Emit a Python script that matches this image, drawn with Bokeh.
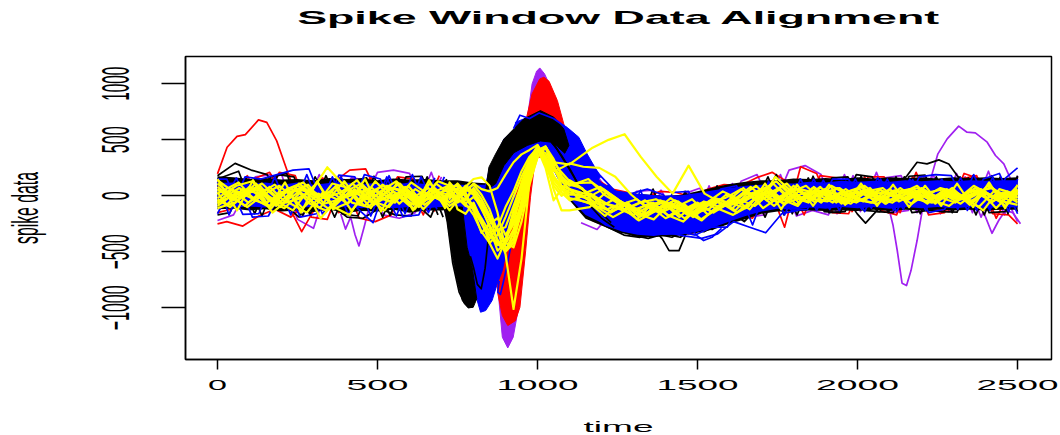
from bokeh.plotting import figure, curdoc
from bokeh.models import CustomJS, FixedTicker
from bokeh.embed import file_html
from bokeh.resources import INLINE

TITLE = "Spike Window Data Alignment"
X_LABEL = "time"
Y_LABEL = "spike data"
X_TICKS = [0, 500, 1000, 1500, 2000, 2500]
Y_TICKS = [-1000, -500, 0, 500, 1000]

# shared sample times of the traces
T_LEFT = [0, 50, 100, 150, 200, 250, 300, 350, 400, 450, 500, 550, 600, 650, 700]
T_SPIKE = [725, 750, 775, 800, 825, 850, 875, 900, 925, 950, 975, 1000, 1025, 1050, 1075, 1100]
T_RIGHT = [1150, 1200, 1250, 1300, 1350, 1400, 1450, 1500, 1550, 1600, 1650, 1700, 1750, 1800,
           1850, 1900, 1950, 2000, 2050, 2100, 2150, 2200, 2250, 2300, 2350, 2400, 2450, 2500]
# each window was cut at its own sample phase
PHASES = [0, 18, -14, 9, -21, 13, -7, 22, -17, 5, 16, -11, 20, -4, 11, -19, 7]

# solid ink where many traces overlap: envelope of the noise band
T_BAND_L = [0, 50, 100, 150, 200, 250, 300, 350, 400, 450, 500, 550, 600, 650, 700, 750, 800, 850]
T_BAND_R = [1100, 1150, 1200, 1250, 1300, 1350, 1400, 1450, 1500, 1550, 1600, 1650, 1700, 1750, 1800,
            1850, 1900, 1950, 2000, 2050, 2100, 2150, 2200, 2250, 2300, 2350, 2400, 2450, 2500]
BLACK_UP_L = [175, 165, 150, 160, 145, 150, 140, 160, 150, 155, 140, 155, 145, 150, 140, 140, 120, 110]
BLACK_LO_L = [-120, -115, -130, -120, -140, -130, -145, -125, -150, -135, -140, -125, -150, -130, -130, -120, -110, -110]
BLUE_UP_L = [115, 120, 105, 120, 100, 120, 100, 115, 120, 105, 115, 100, 120, 105, 115, 100, 100, 100]
BLUE_LO_L = [-90, -105, -95, -105, -95, -110, -95, -105, -100, -110, -95, -110, -100, -110, -100, -105, -100, -100]
BLACK_UP_R = [300, 170, 70, 40, 20, 10, 0, 10, 40, 75, 105, 125, 140, 140, 155, 150, 160, 150, 165, 155, 165, 160, 165, 155, 165, 160, 165, 160, 165]
BLACK_LO_R = [-40, -205, -265, -325, -355, -370, -360, -355, -330, -300, -250, -210, -160, -140, -140, -130, -135, -130, -135, -125, -135, -125, -130, -125, -130, -125, -130, -125, -125]
BLUE_UP_R = [500, 300, 120, 40, 20, 10, 0, 5, 25, 50, 70, 90, 100, 115, 110, 125, 120, 135, 125, 135, 125, 140, 130, 140, 130, 140, 135, 140, 140]
BLUE_LO_R = [-20, -170, -240, -300, -335, -350, -350, -345, -320, -280, -230, -180, -140, -115, -125, -105, -115, -100, -110, -100, -115, -100, -110, -100, -110, -100, -110, -100, -105]

# solid ink of the spike, cluster by cluster (time, value)
PURPLE_TROUGH_T = [869, 890, 907, 924, 939, 949]
PURPLE_TROUGH_V = [-608, -1262, -1358, -1262, -1024, -608]
PURPLE_PEAK_T = [960, 983, 997, 1007, 1022, 1041, 1072, 1030, 989]
PURPLE_PEAK_V = [523, 999, 1112, 1142, 1089, 970, 672, 404, 404]
RED_PEAK_T = [966, 983, 1007, 1020, 1036, 1062, 1082, 1114, 1020, 978]
RED_PEAK_V = [702, 910, 1044, 1059, 1023, 851, 642, 404, 345, 345]
RED_TROUGH_T = [869, 876, 890, 907, 931, 945, 963, 978, 991, 957, 916]
RED_TROUGH_V = [-548, -875, -1069, -1158, -1114, -995, -489, -12, 285, 285, -191]
BLUE_SPIKE_T = [765, 780, 796, 810, 822, 838, 858, 874, 890, 905, 921, 937, 973, 1004, 1030, 1062, 1093,
                1135, 1197, 1155, 1129, 1098, 1051, 1009, 957, 931, 931, 895, 864, 848, 832, 822, 790]
BLUE_SPIKE_V = [-100, -459, -637, -920, -1039, -1024, -935, -786, -667, -459, -131, 107, 285, 374, 345, 166, 17,
                47, 166, 374, 523, 598, 687, 717, 687, 657, 598, 508, 315, 226, 17, -100, -100]
BLACK_TROUGH_T = [712, 728, 744, 765, 783, 799, 810, 796, 780, 765]
BLACK_TROUGH_V = [-100, -429, -697, -935, -1000, -995, -920, -637, -459, -100]
BLACK_PEAK_T = [838, 848, 869, 895, 926, 957, 1009, 1051, 1082, 1098, 1085, 1062, 1041, 1009, 968, 926, 895, 869]
BLACK_PEAK_V = [47, 255, 374, 508, 598, 687, 761, 702, 598, 450, 380, 440, 480, 490, 450, 385, 270, 107]

# single strands that stand out of the solid ink
BLACK_STRAND_1_T = [705, 718, 735, 755, 772, 785, 800]
BLACK_STRAND_1_V = [-60, -230, -600, -860, -960, -995, -985]
BLACK_STRAND_2_T = [790, 800, 812, 824, 836, 846]
BLACK_STRAND_2_V = [-540, -640, -790, -830, -650, -380]
BLACK_STRAND_3_T = [1040, 1075, 1105, 1135, 1165, 1200, 1240]
BLACK_STRAND_3_V = [500, 360, 220, 60, -90, -200, -280]
BLACK_STRAND_4_T = [1020, 1060, 1095, 1130, 1160, 1190, 1230]
BLACK_STRAND_4_V = [560, 420, 260, 90, 10, -130, -240]
BLUE_STRAND_T = [880, 876, 884, 894, 905, 915]
BLUE_STRAND_V = [-760, -860, -880, -760, -620, -470]
BLUE_STRAND_2_T = [925, 945, 975, 1005, 1050, 1090, 1130]
BLUE_STRAND_2_V = [600, 720, 690, 740, 690, 610, 470]
RED_OUT_T = [0, 30, 61, 87, 128, 154, 185, 216, 237]
RED_OUT_V = [196, 434, 531, 546, 678, 656, 491, 238, 77]
PURPLE_OUT_1_T = [385, 400, 416, 430, 442, 458, 474, 490]
PURPLE_OUT_1_V = [-160, -297, -190, -350, -447, -280, -100, -40]
PURPLE_OUT_2_T = [2092, 2111, 2124, 2139, 2153, 2167, 2186, 2202, 2233, 2251, 2280, 2316, 2342, 2368, 2405, 2431, 2457, 2478]
PURPLE_OUT_2_V = [-42, -265, -488, -780, -801, -667, -399, -131, 196, 375, 509, 622, 568, 562, 479, 360, 286, 152]
PURPLE_OUT_3_T = [2380, 2400, 2420, 2441, 2462, 2485, 2509]
PURPLE_OUT_3_V = [-60, -190, -334, -220, -131, -150, -250]
BLACK_OUT_1_T = [2125, 2155, 2186, 2217, 2254, 2285, 2311, 2335]
BLACK_OUT_1_V = [90, 181, 300, 285, 321, 285, 181, 110]
BLACK_OUT_2_T = [1975, 1999, 2025, 2051, 2075]
BLACK_OUT_2_V = [-60, -161, -244, -161, -90]
BLACK_OUT_3_T = [1365, 1390, 1411, 1442, 1468, 1490]
BLACK_OUT_3_V = [-300, -384, -489, -489, -310, -240]
BLUE_OUT_T = [1480, 1500, 1519, 1545, 1575]
BLUE_OUT_V = [-290, -360, -399, -370, -290]

# traces outside the spike
RED_L1 = [-250, -230, -270, -180, -120, -190, -60, 160, -150, -40, 170, -60, -70, 40, -140]
RED_L2 = [90, -80, 150, 210, -40, -320, -70, 120, 230, 240, -60, 170, 150, -80, 130]
RED_L3 = [-150, -120, 180, -90, 210, 180, -190, -210, 140, -200, -230, -170, 130, -170, 180]
PURPLE_L1 = [-220, -170, 100, 130, 190, -210, -290, 150, -170, -100, 210, 230, 200, -140, 170]
PURPLE_L2 = [130, -110, 170, 190, -100, -170, 190, -100, 160, 140, -170, -200, -150, 210, -190]
BLACK_L1 = [180, 290, 230, 190, -70, -190, 170, -80, -190, -200, -110, -170, -180, 170, -190]
BLACK_L2 = [150, 220, -160, 170, 200, -180, 120, -190, 130, 160, -190, 160, -60, -190, 150]
BLACK_L3 = [-170, -150, 170, -180, 190, 170, -170, 180, -160, -180, 175, -175, 170, 175, -170]
BLUE_L1 = [120, -170, 170, 150, 190, 230, 240, -120, 170, -110, -240, 180, -160, 170, -120]
BLUE_L2 = [-160, 160, -190, -180, 100, -190, -160, 170, -170, 190, 150, -180, 190, -150, 170]
BLUE_L3 = [150, 150, -165, -160, 170, -170, 190, -170, 185, 170, -180, 170, -185, -170, 160]
RED_R1 = [-220, -280, -300, -290, -350, -300, -340, -290, -260, -170, -200, 100, -280, 260, 200, -150, -160, 170, -130, -170, 170, -170, -150, 150, 180, -160, -170, -250]
RED_R2 = [330, 150, 60, 30, -20, 40, 30, -10, 60, 100, 90, 160, 210, 120, -170, 180, 160, -140, 170, 170, -150, 210, -120, -140, 200, 150, -200, 160]
PURPLE_R1 = [-240, -300, -130, -20, -320, 50, -200, -330, 90, -240, 130, 190, -110, 230, 270, 190, -160, 180, -130, 160, 180, -150, 190, -140, 170, -190, 150, -230]
PURPLE_R2 = [280, 90, -240, 40, 50, -310, 20, 70, -280, 110, -190, -170, 190, -180, -130, -170, 190, -140, 210, -150, -130, 170, -160, 200, -150, 220, -170, 180]
BLACK_R1 = [-180, -280, -350, -370, -340, -370, -300, -320, -250, -190, -130, 170, -170, 150, -120, 160, 170, -130, -140, 170, -150, -130, -140, 170, -170, 180, -160, 170]
BLACK_R2 = [250, 60, -300, -350, -380, -340, -370, -280, -300, -130, -230, -80, 190, -160, 160, -140, -150, 190, 170, -150, 170, -160, 170, -150, 160, -170, 170, -140]
BLACK_R3 = [200, -230, 20, -320, 60, -320, 40, -300, 90, -230, 110, -190, 140, -170, 175, -150, -140, 175, -140, -150, 175, 185, -140, -145, 180, -150, -140, 180]
BLUE_R1 = [-150, -260, -310, -340, -350, -330, -360, -380, -340, -230, -280, -330, -160, -130, 150, -120, 130, -120, 160, -130, 150, -130, 150, -120, 190, -130, 160, 250]
BLUE_R2 = [380, 190, 40, 20, 60, 10, -320, -350, -280, -280, 60, -90, 130, -130, -120, 140, -130, 150, -110, 150, -120, 170, 190, 180, -130, 150, 200, -160]
BLUE_R3 = [-100, 100, -280, 50, -340, 30, 40, -300, 60, 90, -260, 130, -170, 150, -130, 150, 150, -140, 150, -140, 145, -150, -120, 160, -130, 165, -140, 150]

# the yellow cluster, drawn last
YELLOW_1 = [60, -40, 80, -70, 30, 95, -20, -120, 40, 110, -60, 35, -90, 20, -40,
            40, 60, 0, -90, -200, -320, -430, -480, -380, -150, 130, 340, 440, 300, 210, 130,
            40, -60, -110, -170, -90, -200, -130, -60, -150, -60, -110, 30, -60, 90, -20, 50, -70, 40, -30, 60, -40, 70, -20, 50, -80, 30, -50, 60]
YELLOW_2 = [-50, 70, -30, -110, 60, 120, -40, 80, -130, 20, 90, -70, 60, -30, 70,
            60, -20, 80, 150, 165, 90, -150, -470, -410, -40, 270, 430, 350, 180, 80, 30,
            -40, -120, -60, -190, -120, -60, -170, -90, -30, -130, 20, 80, -40, 40, -60, 90, 10, -50, 60, -20, 30, -70, 50, -30, 70, -60, 40, -20]
YELLOW_3 = [110, 20, -90, 40, -50, -130, 60, -20, 30, 140, -50, -100, 80, -60, 10,
            -60, -20, -90, -110, -250, -385, -280, -100, 40, 220, 350, 430, 320, 150, 60, 10,
            10, -100, -190, -110, -40, -150, -80, -190, -70, -20, 60, -50, 110, -30, 30, -60, 70, -10, 40, -70, 20, 90, -40, -90, 20, 60, -30, 50]
YELLOW_4 = [-20, 90, 130, -40, -110, 30, -80, 110, 70, -90, 40, 130, -20, 70, -80,
            30, -40, 40, 110, 60, 40, 70, 190, 300, 370, 410, 455, 340, 240, 150, 90,
            150, 10, -80, -30, -130, -90, -200, -120, -50, -110, 30, -20, 60, -80, 70, 10, -40, 80, -20, -60, 40, -10, 70, 30, -50, 100, -20, 30]
YELLOW_5 = [30, -80, 60, 20, 100, -70, -150, 30, -40, 60, -110, 90, 30, -100, 40,
            -90, -40, 50, 100, 10, -120, -320, -430, -300, -60, 180, 420, 250, -40, 60, 140,
            90, -30, -150, -60, -170, -110, -40, -120, -60, 40, -30, -90, 30, 110, -40, 50, -20, -70, 40, 70, -50, 20, -30, 60, -10, -100, 50, -40]
YELLOW_6 = [-90, 40, -30, 80, -60, -20, 120, -100, -170, 60, -30, 20, -80, 110, -20,
            40, 110, 30, -130, -330, -250, -200, -350, -230, 20, 260, 400, 350, 60, -130, -130,
            -100, 30, -60, -160, -210, -70, -140, -220, -90, -30, -120, 50, -30, -90, 80, -30, 60, -40, -70, 30, 60, -50, 20, -30, 90, 10, -90, 20]
YELLOW_7 = [80, -10, -100, 10, 90, -30, 40, 255, 100, -70, 130, -20, 60, -120, 30,
            10, -60, -20, 60, -100, -280, -490, -420, -180, 60, 300, 440, 330, 220, 250, 290,
            260, 250, 170, 10, -110, -60, -190, -70, -140, -50, 70, -60, 170, 40, -50, 30, 70, -30, -60, 20, -20, 50, -70, 40, -30, -130, 60, 10]
YELLOW_8 = [-60, 30, 50, -150, -30, 70, -200, -40, 110, -20, -130, 50, -40, 30, 90,
            -30, 70, 60, 10, -120, -260, -390, -500, -420, -100, 200, 400, 440, 300, 290, 280,
            430, 500, 550, 350, 170, 20, 270, 20, -60, -150, -40, 30, -80, 60, 20, -60, 40, 90, -20, -40, 60, -30, 10, -70, 40, 70, -40, 30]
YELLOW_9 = [140, 70, -10, 90, -90, 40, 100, -70, -30, 20, 70, -50, 10, -70, 110,
            20, -30, -70, -10, -90, -200, -310, -520, -1010, -560, 130, 410, 440, 280, 90, 60,
            -40, -90, -140, -70, -180, -40, -100, -30, -170, -80, -10, 90, -50, 20, -30, 80, -60, 30, 10, -40, 70, -30, -60, 30, -20, 50, -110, 90]
YELLOW_10 = [-110, -60, 70, 50, -70, 110, -10, 40, -70, 90, -20, -60, 120, 20, -50,
             -130, -40, 80, 30, -80, -180, -300, -420, -460, -230, 100, 350, 430, 240, 130, 60,
             -20, 60, -40, -130, -60, -170, -230, -100, -20, -70, 50, -110, -10, 70, -30, -50, 30, 60, -50, 10, -40, 40, -10, -60, 60, -20, 30, -60]
YELLOW_11 = [20, 120, -40, -90, 40, -110, 20, -90, 50, -30, 100, 10, -120, 60, -10,
             70, 100, -10, -130, -240, -350, -440, -380, -250, -80, 220, 410, 300, 120, 30, -40,
             20, -70, -110, -220, -140, -20, -120, -60, -120, -30, 80, -40, 90, -60, 50, -10, -70, 50, -20, 50, 10, -60, 40, -40, 10, 80, -70, 50]
YELLOW_12 = [-30, -100, 20, 110, -20, 80, -70, -130, -10, 50, -80, 70, 50, -30, 130,
             90, 20, -40, 70, -30, -170, -410, -490, -330, -110, 160, 380, 440, 330, 180, 100,
             70, -110, -30, -90, -150, -130, -50, -160, -110, 10, -60, 20, -90, 30, 90, -40, 20, -20, 70, -70, 30, 70, -50, 10, -40, 40, -40, -80]
YELLOW_13 = [50, -20, 110, -60, 70, 10, -110, 90, -60, -100, 20, 110, -50, -20, 60,
             120, 40, -70, -170, -320, -420, -350, -190, -10, 170, 320, 420, 380, 250, 170, 110,
             120, 20, -120, -60, -30, -100, -150, -50, -100, -70, 10, 70, -70, -20, 40, 30, -50, -30, 50, 0, -70, 30, 60, -20, 30, -50, 20, -10]
YELLOW_14 = [-70, 60, -60, 30, -100, 60, 30, -30, 130, -60, 50, -30, 90, -80, 20,
             -60, 10, 90, 40, -60, -220, -300, -280, -90, 100, 280, 430, 280, 90, 0, 60,
             20, 80, -20, -130, -80, -50, -110, -170, -40, -90, -20, 40, 130, -10, -60, 60, -10, -60, 20, 30, -30, 60, -30, 70, -60, 20, -20, 40]
YELLOW_15 = [150, -130, 140, -100, 120, -150, 130, -120, -60, 150, -140, 120, -130, 140, -110,
             100, -120, -160, -60, -220, -420, -560, -400, -130, 120, 320, 450, 320, 170, 60, -20,
             -60, -180, -50, -210, -60, -180, -80, -210, -110, -170, -90, 110, -120, 100, -90, 100, -80, 110, -90, 100, -100, 90, -90, 110, -100, 120, -110, 100]

BLACK, BLUE, RED, PURPLE, YELLOW = "#000000", "#0000ff", "#ff0000", "#a020f0", "#ffff00"
LW = 1.7
LW_YELLOW = 2.2

p = figure(width=1060, height=435, output_backend="svg", toolbar_location=None,
           x_range=(-100, 2606), y_range=(-1461, 1244),
           min_border_left=185, min_border_right=9, min_border_top=56, min_border_bottom=76,
           background_fill_color="white", border_fill_color="white")


def patch(t, v, colour):
    p.patch(t, v, fill_color=colour, line_color=colour, line_width=1)


def trace(t, v, colour, width=LW):
    assert len(t) == len(v), (len(t), len(v), v[:3])
    p.line(t, v, line_color=colour, line_width=width, line_join="round")


def cut(times, phase):
    return [min(max(t + phase, 0), 2500) if 0 < t < 2500 else t for t in times]


patch(PURPLE_TROUGH_T, PURPLE_TROUGH_V, PURPLE)
patch(PURPLE_PEAK_T, PURPLE_PEAK_V, PURPLE)
patch(RED_PEAK_T, RED_PEAK_V, RED)
patch(RED_TROUGH_T, RED_TROUGH_V, RED)
for i, y in enumerate((PURPLE_L1, PURPLE_L2)):
    trace(cut(T_LEFT, PHASES[i]), y, PURPLE)
for i, y in enumerate((PURPLE_R1, PURPLE_R2)):
    trace(cut(T_RIGHT, PHASES[i + 2]), y, PURPLE)
for t, v in ((PURPLE_OUT_1_T, PURPLE_OUT_1_V), (PURPLE_OUT_2_T, PURPLE_OUT_2_V), (PURPLE_OUT_3_T, PURPLE_OUT_3_V)):
    trace(t, v, PURPLE)
for i, y in enumerate((RED_L1, RED_L2, RED_L3)):
    trace(cut(T_LEFT, PHASES[i + 4]), y, RED)
for i, y in enumerate((RED_R1, RED_R2)):
    trace(cut(T_RIGHT, PHASES[i + 7]), y, RED)
trace(RED_OUT_T, RED_OUT_V, RED)

p.varea(T_BAND_L, BLACK_LO_L, BLACK_UP_L, fill_color=BLACK)
p.varea(T_BAND_R, BLACK_LO_R, BLACK_UP_R, fill_color=BLACK)
for i, y in enumerate((BLACK_L1, BLACK_L2, BLACK_L3)):
    trace(cut(T_LEFT, PHASES[i + 9]), y, BLACK)
for i, y in enumerate((BLACK_R1, BLACK_R2, BLACK_R3)):
    trace(cut(T_RIGHT, PHASES[i + 12]), y, BLACK)
for t, v in ((BLACK_OUT_1_T, BLACK_OUT_1_V), (BLACK_OUT_2_T, BLACK_OUT_2_V), (BLACK_OUT_3_T, BLACK_OUT_3_V)):
    trace(t, v, BLACK)
for i, y in enumerate((BLUE_L1, BLUE_L2, BLUE_L3)):
    trace(cut(T_LEFT, PHASES[i + 2]), y, BLUE)
for i, y in enumerate((BLUE_R1, BLUE_R2, BLUE_R3)):
    trace(cut(T_RIGHT, PHASES[i + 5]), y, BLUE)
trace(BLUE_OUT_T, BLUE_OUT_V, BLUE)
p.varea(T_BAND_L, BLUE_LO_L, BLUE_UP_L, fill_color=BLUE)
p.varea(T_BAND_R, BLUE_LO_R, BLUE_UP_R, fill_color=BLUE)

patch(BLUE_SPIKE_T, BLUE_SPIKE_V, BLUE)
trace(BLUE_STRAND_T, BLUE_STRAND_V, BLUE)
patch(BLACK_TROUGH_T, BLACK_TROUGH_V, BLACK)
patch(BLACK_PEAK_T, BLACK_PEAK_V, BLACK)
trace(BLUE_STRAND_2_T, BLUE_STRAND_2_V, BLUE)
for t, v in ((BLACK_STRAND_1_T, BLACK_STRAND_1_V), (BLACK_STRAND_2_T, BLACK_STRAND_2_V),
             (BLACK_STRAND_3_T, BLACK_STRAND_3_V), (BLACK_STRAND_4_T, BLACK_STRAND_4_V)):
    trace(t, v, BLACK)

for i, y in enumerate((YELLOW_1, YELLOW_2, YELLOW_3, YELLOW_4, YELLOW_5, YELLOW_6, YELLOW_7, YELLOW_8,
                       YELLOW_9, YELLOW_10, YELLOW_11, YELLOW_12, YELLOW_13, YELLOW_14, YELLOW_15)):
    trace(cut(T_LEFT, PHASES[i]) + T_SPIKE + cut(T_RIGHT, PHASES[i]), y, YELLOW, LW_YELLOW)

p.grid.visible = False
p.outline_line_color = "black"
p.outline_line_width = 1.5

p.title.text = TITLE
p.title.align = "center"
p.title.text_font = "Liberation Sans"
p.title.text_font_style = "bold"
p.title.text_font_size = "19px"
p.title.text_color = "black"
p.title.standoff = 30

for ax in (p.xaxis[0], p.yaxis[0]):
    ax.axis_line_color = "black"
    ax.axis_line_width = 1.5
    ax.major_tick_line_color = "black"
    ax.major_tick_line_width = 1.5
    ax.major_tick_in = 0
    ax.minor_tick_line_color = None
    ax.major_label_text_color = "black"
    ax.major_label_text_font = "Liberation Sans"
    ax.axis_label_text_font = "Liberation Sans"
    ax.axis_label_text_font_style = "normal"
    ax.axis_label_text_color = "black"

xa = p.xaxis[0]
xa.ticker = FixedTicker(ticks=X_TICKS)
xa.major_tick_out = 10
xa.major_label_text_font_size = "14px"
xa.major_label_standoff = 10
xa.axis_label = X_LABEL
xa.axis_label_text_font_size = "15px"
xa.axis_label_standoff = 22

ya = p.yaxis[0]
ya.ticker = FixedTicker(ticks=Y_TICKS)
ya.major_tick_out = 24
ya.major_label_orientation = "vertical"
ya.major_label_text_font_size = "39px"
ya.major_label_standoff = 32
ya.major_label_overrides = {-1000: "\u22121000", -500: "\u2212500", 0: "0", 500: "500", 1000: "1000"}
ya.axis_label = Y_LABEL
ya.axis_label_text_font_size = "36px"
ya.axis_label_standoff = 54

# the reference's device stretched its texts: give each one its drawn length
stretch = CustomJS(code="""
const FIXED = {"Spike Window Data Alignment": 642, "time": 70, "spike data": 72};
const XT = {"0": 19, "500": 62, "1000": 82, "1500": 82, "2000": 83, "2500": 82};
const YT = {"\u22121000": 45, "\u2212500": 35, "0": 9, "500": 27, "1000": 34};
function walk(root, out) {
  for (const el of root.querySelectorAll("*")) {
    if (el.tagName.toLowerCase() === "text") out.push(el);
    if (el.shadowRoot) walk(el.shadowRoot, out);
  }
  return out;
}
function apply() {
  for (const el of walk(document, [])) {
    if (el.hasAttribute("textLength")) continue;
    const s = el.textContent;
    const size = parseFloat(getComputedStyle(el).fontSize);
    let len = FIXED[s];
    if (len === undefined) len = size > 30 ? YT[s] : XT[s];
    if (len === undefined) continue;
    const anchor = el.getAttribute("text-anchor");
    if (anchor === null || anchor === "start") {
      const x = parseFloat(el.getAttribute("x") || "0");
      el.setAttribute("x", x + el.getComputedTextLength() / 2);
      el.setAttribute("text-anchor", "middle");
    }
    el.setAttribute("textLength", len);
    el.setAttribute("lengthAdjust", "spacingAndGlyphs");
    if (s === "Spike Window Data Alignment") {
      el.setAttribute("y", parseFloat(el.getAttribute("y") || "0") - 14);
    }
    if (s === "time") {
      el.setAttribute("y", parseFloat(el.getAttribute("y") || "0") + 3);
    }
  }
}
let n = 0;
const id = setInterval(() => { apply(); if (++n > 40) clearInterval(id); }, 50);
""")
curdoc().add_root(p)
curdoc().js_on_event("document_ready", stretch)

open("out.html", "w").write(file_html(p, INLINE))
